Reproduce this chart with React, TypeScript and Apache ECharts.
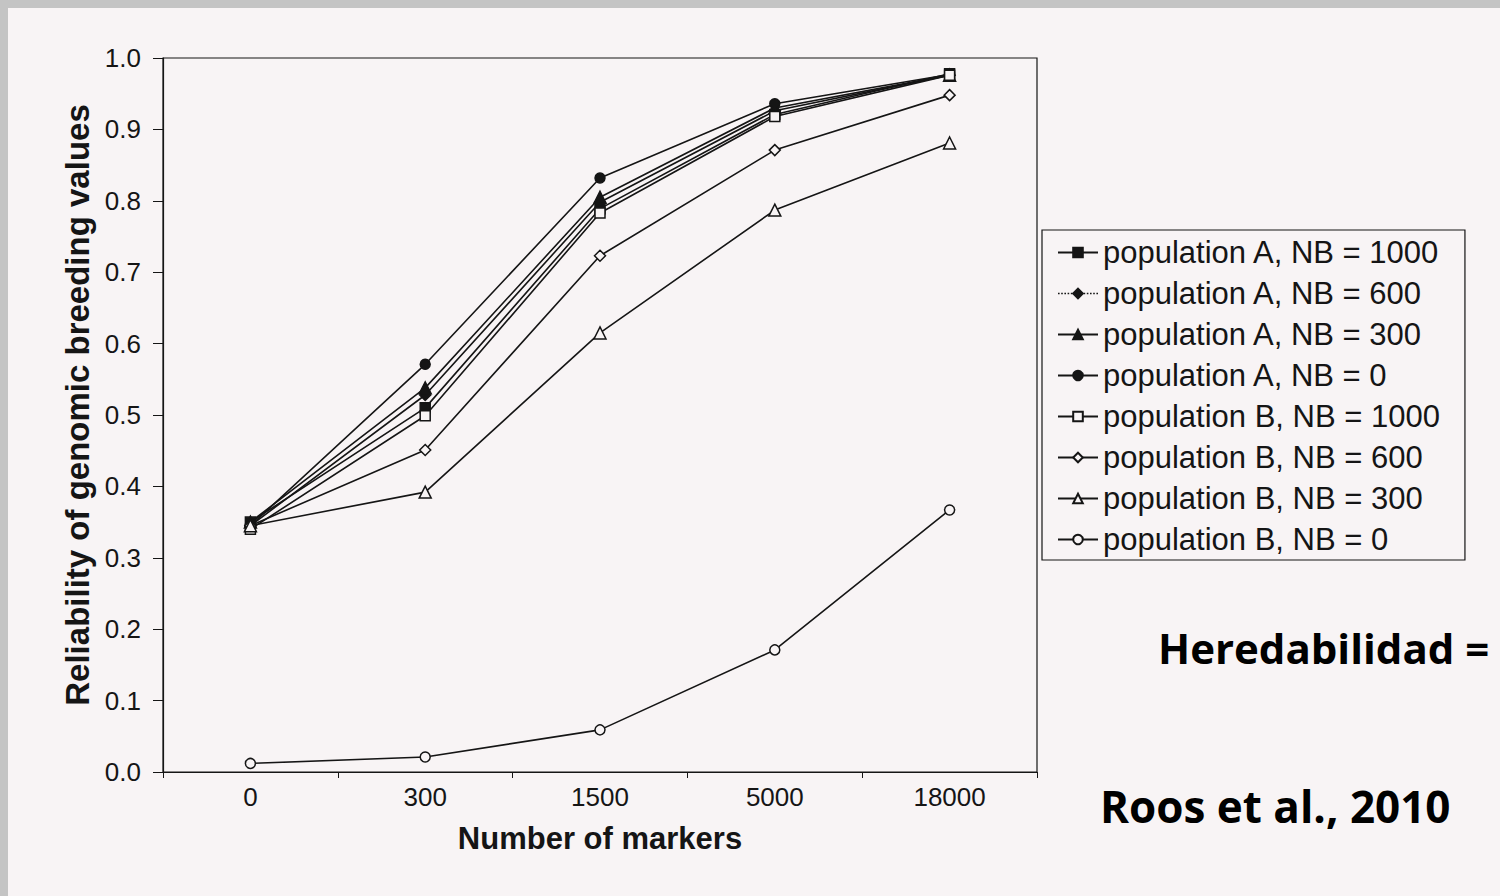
import React, { useEffect, useRef } from "react";
import * as echarts from "echarts";

const categories = ["0", "300", "1500", "5000", "18000"];
const yTicks = [0, 0.1, 0.2, 0.3, 0.4, 0.5, 0.6, 0.7, 0.8, 0.9, 1.0];

const seriesNames = [
  "population A, NB = 1000",
  "population A, NB = 600",
  "population A, NB = 300",
  "population A, NB = 0",
  "population B, NB = 1000",
  "population B, NB = 600",
  "population B, NB = 300",
  "population B, NB = 0",
];

const popA1000 = [0.35, 0.51, 0.789, 0.921, 0.978];
const popA600 = [0.345, 0.528, 0.798, 0.926, 0.976];
const popA300 = [0.35, 0.538, 0.805, 0.93, 0.976];
const popA0 = [0.345, 0.571, 0.832, 0.936, 0.977];
const popB1000 = [0.34, 0.499, 0.783, 0.918, 0.976];
const popB600 = [0.345, 0.451, 0.723, 0.871, 0.948];
const popB300 = [0.345, 0.392, 0.615, 0.787, 0.881];
const popB0 = [0.012, 0.021, 0.059, 0.171, 0.367];

const seriesValues = [popA1000, popA600, popA300, popA0, popB1000, popB600, popB300, popB0];
const seriesSymbols = ["rect", "diamond", "triangle", "circle", "rect", "diamond", "triangle", "circle"];
const seriesFilled = [true, true, true, true, false, false, false, false];

const PAPER = "#f8f4f5";
const INK = "#151515";
const SANS = "Liberation Sans, Arial, sans-serif";

export default function App() {
  const ref = useRef<HTMLDivElement>(null);

  useEffect(() => {
    if (!ref.current) return;
    const chart = echarts.init(ref.current, null, { renderer: "svg" });

    const series = seriesNames.map((name, i) => ({
      name,
      type: "line",
      data: seriesValues[i],
      symbol: seriesSymbols[i],
      symbolSize: seriesSymbols[i] === "triangle" ? 12 : seriesSymbols[i] === "diamond" ? 11 : 10,
      showSymbol: true,
      z: 3 + i,
      lineStyle: { color: INK, width: 1.6 },
      itemStyle: {
        color: seriesFilled[i] ? INK : PAPER,
        borderColor: INK,
        borderWidth: 1.5,
      },
      emphasis: { disabled: true },
    }));

    chart.setOption({
      animation: false,
      backgroundColor: "#c4c4c4",
      graphic: [
        {
          type: "rect",
          z: -10,
          shape: { x: 8, y: 8, width: 1492, height: 888 },
          style: { fill: PAPER },
        },
        {
          type: "text",
          left: 1158,
          top: 626,
          z: 10,
          style: {
            text: "Heredabilidad =",
            fontFamily: "Open Sans",
            fontWeight: "bold",
            fontSize: 42,
            fill: "#000",
          },
        },
        {
          type: "text",
          left: 1100,
          top: 784,
          z: 10,
          style: {
            text: "Roos et al., 2010",
            fontFamily: "Open Sans",
            fontWeight: "bold",
            fontSize: 44,
            fill: "#000",
          },
        },
      ],
      grid: {
        left: 163,
        right: 463,
        top: 58,
        bottom: 124,
        show: true,
        borderColor: INK,
        borderWidth: 1.2,
        backgroundColor: "transparent",
      },
      legend: {
        orient: "vertical",
        left: 1042,
        top: 230,
        padding: [7, 25, 5, 15],
        itemWidth: 40,
        itemHeight: 12,
        itemGap: 10,
        borderColor: INK,
        borderWidth: 1.2,
        backgroundColor: PAPER,
        selectedMode: false,
        textStyle: {
          fontFamily: SANS,
          fontSize: 31,
          lineHeight: 31,
          color: INK,
        },
        data: seriesNames.map((name, i) =>
          i === 1 ? { name, lineStyle: { type: "dotted", width: 1.6, color: INK } } : { name }
        ),
      },
      xAxis: {
        type: "category",
        data: categories,
        boundaryGap: true,
        name: "Number of markers",
        nameLocation: "middle",
        nameGap: 51,
        nameTextStyle: {
          fontFamily: SANS,
          fontWeight: "bold",
          fontSize: 31,
          color: INK,
        },
        axisLine: { show: true, lineStyle: { color: INK, width: 1.2 } },
        axisTick: { show: true, length: 6, alignWithLabel: false, lineStyle: { color: INK } },
        axisLabel: {
          fontFamily: SANS,
          fontSize: 26,
          color: INK,
          margin: 12,
        },
        splitLine: { show: false },
      },
      yAxis: {
        type: "value",
        min: yTicks[0],
        max: yTicks[yTicks.length - 1],
        interval: 0.1,
        name: "Reliability of genomic breeding values",
        nameLocation: "middle",
        nameGap: 68,
        nameTextStyle: {
          fontFamily: SANS,
          fontWeight: "bold",
          fontSize: 33,
          color: INK,
          padding: [0, 0, 0, 20],
        },
        axisLine: { show: true, lineStyle: { color: INK, width: 1.2 } },
        axisTick: { show: true, length: 10, lineStyle: { color: INK } },
        axisLabel: {
          fontFamily: SANS,
          fontSize: 26,
          color: INK,
          margin: 22,
          formatter: (v: number) => v.toFixed(1),
        },
        splitLine: { show: false },
      },
      series,
    });

    return () => chart.dispose();
  }, []);

  return (
    <div
      ref={ref}
      style={{ position: "fixed", left: 0, top: 0, width: 1500, height: 896 }}
    />
  );
}
